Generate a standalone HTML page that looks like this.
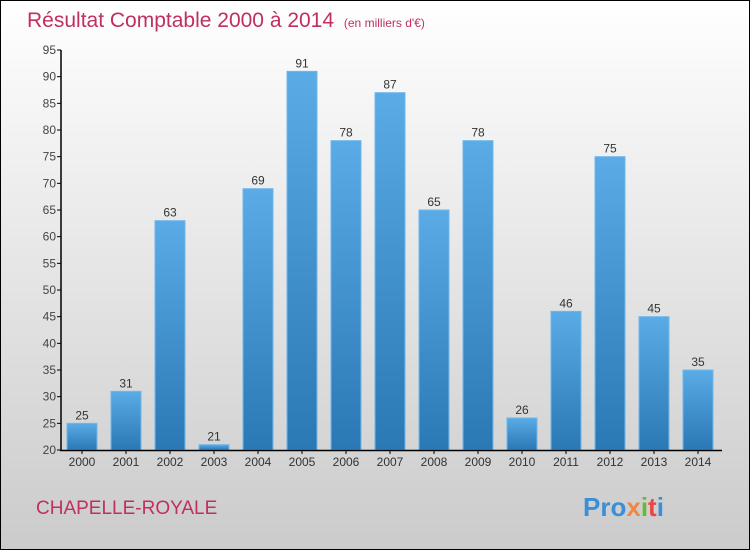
<!DOCTYPE html>
<html><head><meta charset="utf-8"><style>
body{margin:0}
svg{display:block;font-family:"Liberation Sans",sans-serif}
</style></head><body>
<svg id="c" width="750" height="550">
<defs>
<linearGradient id="bg" x1="0" y1="0" x2="0" y2="1"><stop offset="0" stop-color="#ffffff"/><stop offset="1" stop-color="#cbcbcb"/></linearGradient>
<linearGradient id="bar" x1="0" y1="0" x2="0" y2="1"><stop offset="0" stop-color="#5aabe6"/><stop offset="1" stop-color="#2a78b4"/></linearGradient>
</defs>
<rect x="0.5" y="0.5" width="749" height="549" fill="url(#bg)" stroke="#000"/>
<text x="27" y="27" font-size="21" fill="#c0305e">Résultat Comptable 2000 à 2014 <tspan font-size="12" dx="4">(en milliers d'€)</tspan></text>
<text x="36" y="514" font-size="19" fill="#c0305e">CHAPELLE-ROYALE</text>
<text x="583" y="516" font-size="26" font-weight="bold"><tspan fill="#3a8fd8">Pro</tspan><tspan fill="#e84">x</tspan><tspan fill="#6b3">i</tspan><tspan fill="#e44">t</tspan><tspan fill="#3a8fd8">i</tspan></text>
<g id="g"></g>
</svg>
<script>
const years=["2000","2001","2002","2003","2004","2005","2006","2007","2008","2009","2010","2011","2012","2013","2014"];
const values=[25,31,63,21,69,91,78,87,65,78,26,46,75,45,35];
const yTicks=[20,25,30,35,40,45,50,55,60,65,70,75,80,85,90,95];
const NS="http://www.w3.org/2000/svg",g=document.getElementById('g');
const y=v=>450-(v-20)*400/75, x=i=>67+i*44;
function el(t,a,txt){const e=document.createElementNS(NS,t);for(const k in a)e.setAttribute(k,a[k]);if(txt!=null)e.textContent=txt;g.appendChild(e);return e;}
yTicks.forEach(t=>{
 const l=el('line',{x1:57,x2:61,y1:y(t),y2:y(t),stroke:'#000'});
 
 
 const s=el('text',{x:56,y:y(t)+4,'font-size':12,'text-anchor':'end',fill:'#444'},t);
 
 
});
values.forEach((v,i)=>{
 const r=el('rect',{x:x(i),y:y(v),width:30,height:450-y(v),fill:'url(#bar)',stroke:'#6fb8ee','stroke-width':1});
 
 
 const s=el('text',{x:x(i)+15,y:y(v)-4,'font-size':12,'text-anchor':'middle',fill:'#333'},v);
 
 
 const t=el('line',{x1:x(i)+15,x2:x(i)+15,y1:450,y2:454,stroke:'#000'});
 
 
 const yl=el('text',{x:x(i)+15,y:466,'font-size':12,'text-anchor':'middle',fill:'#333'},years[i]);
 
 
});
const ya=el('line',{x1:61,x2:61,y1:50,y2:451,stroke:'#000','stroke-width':1.5});


const xa=el('line',{x1:60,x2:722,y1:450.5,y2:450.5,stroke:'#000','stroke-width':1.5});


</script>
</body></html>
